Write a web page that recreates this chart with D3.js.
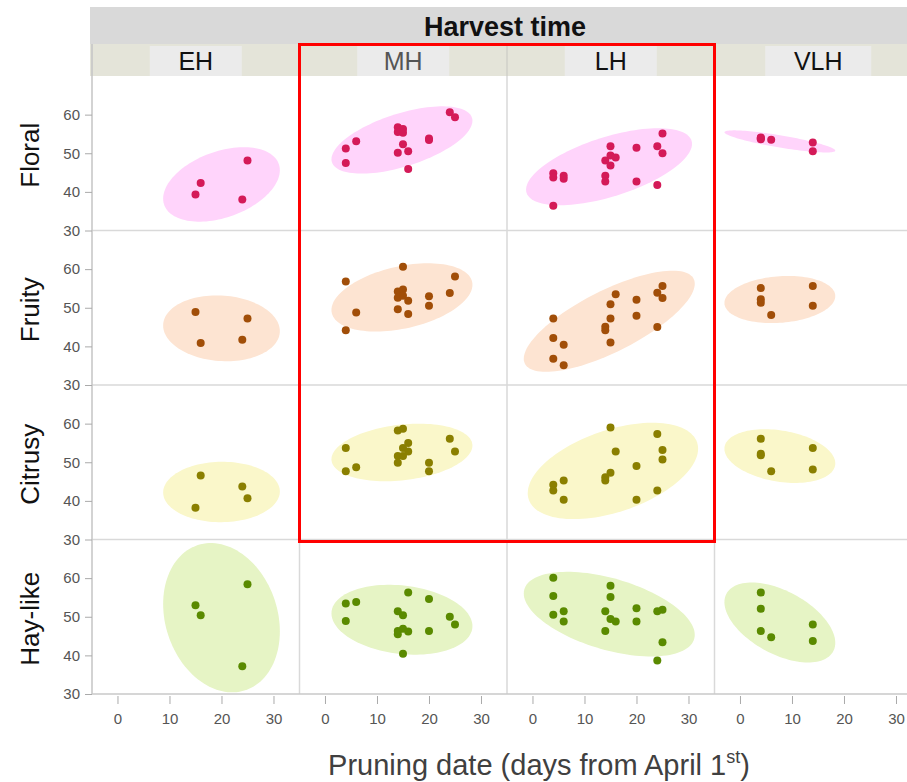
<!DOCTYPE html>
<html><head><meta charset="utf-8">
<script src="https://cdn.jsdelivr.net/npm/d3@7"></script>
<style>html,body{margin:0;padding:0;background:#fff;overflow:hidden}</style>
</head><body><svg id="chart" width="907" height="782"></svg>
<script>
// ---------------- data ----------------
const rowNames = ["Floral", "Fruity", "Citrusy", "Hay-like"];
const harvestNames = ["EH", "MH", "LH", "VLH"];
const xTicks = [0, 10, 20, 30];
const yTicks = [30, 40, 50, 60];

// [pruning day, score]
const floralEH = [[16,42.3],[15,39.3],[25,48.1],[24,38.0]];
const floralMH = [[24,60.6],[25,59.3],[14,56.7],[15,56.3],[14,55.5],[15,55.3],[20,53.8],[20,53.4],[6,53.1],[4,51.2],[4,47.5],[15,52.3],[14,50.1],[16,50.5],[16,45.9]];
const floralLH = [[25,55.1],[15,51.8],[20,51.4],[24,51.8],[25,50.0],[15,49.4],[16,48.9],[14,48.1],[15,46.8],[4,44.8],[4,43.7],[6,44.2],[6,43.4],[14,44.2],[14,42.7],[20,42.7],[24,41.8],[4,36.4]];
const floralVLH = [[4,54.1],[4,53.6],[4,53.9],[6,53.5],[14,52.8],[14,50.5]];

const fruityEH = [[15,48.9],[25,47.2],[16,40.9],[24,41.7]];
const fruityMH = [[15,60.6],[4,56.8],[25,58.1],[24,53.8],[20,53.0],[20,50.5],[14,54.2],[15,54.7],[14,52.6],[15,53.1],[16,51.8],[14,49.6],[16,48.4],[6,48.8],[4,44.2]];
const fruityLH = [[25,55.6],[24,53.9],[25,52.5],[16,53.5],[15,50.9],[20,52.1],[20,47.9],[15,47.2],[14,45.1],[14,44.2],[15,41.0],[24,45.0],[4,47.2],[4,42.2],[6,40.4],[4,36.8],[6,35.1]];
const fruityVLH = [[4,55.1],[4,52.2],[4,51.3],[6,48.1],[14,55.6],[14,50.5]];

const citrusyEH = [[16,46.6],[24,43.7],[25,40.7],[15,38.2]];
const citrusyMH = [[14,58.2],[15,58.7],[24,56.1],[4,53.7],[25,52.8],[16,55.0],[15,53.7],[16,52.8],[14,51.6],[15,51.6],[14,49.9],[6,48.7],[4,47.7],[20,49.9],[20,47.7]];
const citrusyLH = [[15,59.0],[24,57.3],[16,52.8],[25,53.2],[25,50.7],[20,49.0],[15,47.3],[14,46.1],[14,45.3],[6,45.3],[4,44.2],[4,42.7],[6,40.3],[20,40.3],[24,42.7]];
const citrusyVLH = [[4,56.1],[4,52.2],[4,51.8],[6,47.7],[14,53.7],[14,48.1]];

const hayEH = [[25,58.4],[15,53.0],[16,50.4],[24,37.2]];
const hayMH = [[16,56.3],[20,54.6],[4,53.4],[6,53.8],[14,51.4],[15,50.4],[24,50.0],[25,48.0],[4,48.9],[20,46.3],[14,46.3],[14,45.5],[15,46.9],[16,46.2],[15,40.4]];
const hayLH = [[4,60.1],[4,55.4],[4,50.5],[6,51.4],[6,48.8],[15,58.0],[15,55.1],[14,51.4],[15,49.4],[16,48.8],[14,46.3],[20,52.2],[20,48.8],[24,51.4],[25,51.8],[25,43.4],[24,38.7]];
const hayVLH = [[4,56.3],[4,52.1],[4,46.3],[6,44.7],[14,48.0],[14,43.7]];

const panels = [
  [floralEH, floralMH, floralLH, floralVLH],
  [fruityEH, fruityMH, fruityLH, fruityVLH],
  [citrusyEH, citrusyMH, citrusyLH, citrusyVLH],
  [hayEH, hayMH, hayLH, hayVLH]
];

// ---------------- styles ----------------
const pointColors = ["#d41a58", "#a14e08", "#8a7f00", "#5a8a00"];
const ellipseColors = ["#ffd4fb", "#fde4d2", "#faf7ca", "#e6f4c5"];

// ---------------- layout ----------------
const plotLeft = 92, plotTop = 76, colW = 207.5, rowH = 154.5;
const svg = d3.select("#chart");

const x = d3.scaleLinear().domain([-4.9, 35]).range([0, colW]);
const y = d3.scaleLinear().domain([30, 70]).range([rowH, 0]);

// header band
svg.append("rect").attr("x", 90).attr("y", 7).attr("width", 830).attr("height", 37).attr("fill", "#d9d9d9");
svg.append("text").attr("x", 505).attr("y", 36).attr("text-anchor", "middle")
  .attr("font-family", "Liberation Sans Narrow, Liberation Sans, Arial, sans-serif")
  .attr("font-weight", "bold").attr("font-size", 27).attr("fill", "#111").text("Harvest time");
svg.append("rect").attr("x", 90).attr("y", 44).attr("width", 830).attr("height", 32).attr("fill", "#e4e4d9");

harvestNames.forEach((h, j) => {
  const cx = plotLeft + j * colW + colW / 2;
  const bw = h === "VLH" ? 106 : 92;
  svg.append("rect").attr("x", cx - bw / 2).attr("y", 46).attr("width", bw).attr("height", 30).attr("fill", "#ebebeb");
  if (j > 0) svg.append("line").attr("x1", plotLeft + j * colW).attr("x2", plotLeft + j * colW).attr("y1", 44).attr("y2", 76)
    .attr("stroke", "#d0d0c8").attr("stroke-width", 1.5);
  svg.append("text").attr("x", cx).attr("y", 70).attr("text-anchor", "middle")
    .attr("font-family", "Liberation Sans Narrow, Liberation Sans, Arial, sans-serif")
    .attr("font-size", 25).attr("fill", h === "MH" ? "#555" : "#111").text(h);
});

// plot background
svg.append("rect").attr("x", plotLeft).attr("y", plotTop).attr("width", 4 * colW).attr("height", 4 * rowH).attr("fill", "#fff");

const defs = svg.append("defs");
const line = d3.line().curve(d3.curveLinearClosed);
const K = Math.sqrt(-2 * Math.log(1 - 0.9));

function ellipsePts(pts) {
  const n = pts.length;
  const mx = d3.mean(pts, d => d[0]), my = d3.mean(pts, d => d[1]);
  let sxx = 0, syy = 0, sxy = 0;
  pts.forEach(([a, b]) => { sxx += (a - mx) ** 2; syy += (b - my) ** 2; sxy += (a - mx) * (b - my); });
  sxx /= (n - 1); syy /= (n - 1); sxy /= (n - 1);
  const l11 = Math.sqrt(sxx), l21 = sxy / l11, l22 = Math.sqrt(Math.max(syy - l21 * l21, 1e-6));
  return d3.range(0, 120).map(i => {
    const t = i / 120 * 2 * Math.PI, c = Math.cos(t), s = Math.sin(t);
    return [mx + K * l11 * c, my + K * (l21 * c + l22 * s)];
  });
}

panels.forEach((rowData, i) => {
  rowData.forEach((pts, j) => {
    const gx = plotLeft + j * colW, gy = plotTop + i * rowH;
    const id = `clip${i}${j}`;
    defs.append("clipPath").attr("id", id).append("rect").attr("width", colW).attr("height", rowH);
    const g = svg.append("g").attr("transform", `translate(${gx},${gy})`);
    const inner = g.append("g").attr("clip-path", `url(#${id})`);
    inner.append("path")
      .attr("d", line(ellipsePts(pts).map(d => [x(d[0]), y(d[1])])))
      .attr("fill", ellipseColors[i]);
    inner.selectAll("circle").data(pts).join("circle")
      .attr("cx", d => x(d[0])).attr("cy", d => y(d[1])).attr("r", 4)
      .attr("fill", pointColors[i]);
  });
});

// grid separators
for (let j = 1; j < 4; j++) {
  svg.append("line").attr("x1", plotLeft + j * colW).attr("x2", plotLeft + j * colW).attr("y1", plotTop).attr("y2", plotTop + 4 * rowH)
    .attr("stroke", "#d9d9d9").attr("stroke-width", 1.5);
}
for (let i = 1; i < 4; i++) {
  svg.append("line").attr("x1", plotLeft).attr("x2", 907).attr("y1", plotTop + i * rowH).attr("y2", plotTop + i * rowH)
    .attr("stroke", "#d9d9d9").attr("stroke-width", 1.5);
}
// outer axis lines
svg.append("line").attr("x1", plotLeft).attr("x2", plotLeft).attr("y1", 44).attr("y2", plotTop + 4 * rowH).attr("stroke", "#c4c4c4").attr("stroke-width", 1.5);
svg.append("line").attr("x1", plotLeft).attr("x2", 907).attr("y1", plotTop + 4 * rowH).attr("y2", plotTop + 4 * rowH).attr("stroke", "#c8c8c8").attr("stroke-width", 1.5);

// y axes
rowNames.forEach((r, i) => {
  const g = svg.append("g").attr("transform", `translate(${plotLeft},${plotTop + i * rowH})`);
  const ax = d3.axisLeft(y).tickValues(yTicks).tickSize(7).tickPadding(5).tickFormat(d3.format("d"));
  g.call(ax);
  g.select(".domain").remove();
  g.selectAll(".tick line").attr("stroke", "#aaa");
  g.selectAll(".tick text").attr("font-family", "Liberation Sans, Arial, sans-serif").attr("font-size", 15).attr("fill", "#555");
  svg.append("text").attr("transform", `translate(39,${plotTop + i * rowH + rowH / 2 + 2}) rotate(-90)`)
    .attr("text-anchor", "middle").attr("font-family", "Liberation Sans, Arial, sans-serif")
    .attr("font-size", 26).attr("fill", "#111").text(r);
});

// x axes
harvestNames.forEach((h, j) => {
  const g = svg.append("g").attr("transform", `translate(${plotLeft + j * colW},${plotTop + 4 * rowH + 2})`);
  const ax = d3.axisBottom(x).tickValues(xTicks).tickSize(8).tickPadding(9).tickFormat(d3.format("d"));
  g.call(ax);
  g.select(".domain").remove();
  g.selectAll(".tick line").attr("stroke", "#aaa");
  g.selectAll(".tick text").attr("font-family", "Liberation Sans, Arial, sans-serif").attr("font-size", 15).attr("fill", "#555");
});

// x title
const xt = svg.append("text").attr("x", 539).attr("y", 775).attr("text-anchor", "middle")
  .attr("font-family", "Liberation Sans Narrow, Liberation Sans, Arial, sans-serif").attr("font-size", 29).attr("fill", "#404040");
xt.append("tspan").text("Pruning date (days from April 1");
xt.append("tspan").attr("font-size", 18).attr("dy", -12).text("st");
xt.append("tspan").attr("dy", 12).text(")");

// red highlight box
svg.append("rect").attr("x", 299.5).attr("y", 44.5).attr("width", 415).attr("height", 497)
  .attr("fill", "none").attr("stroke", "#ff0000").attr("stroke-width", 3);
</script></body></html>
